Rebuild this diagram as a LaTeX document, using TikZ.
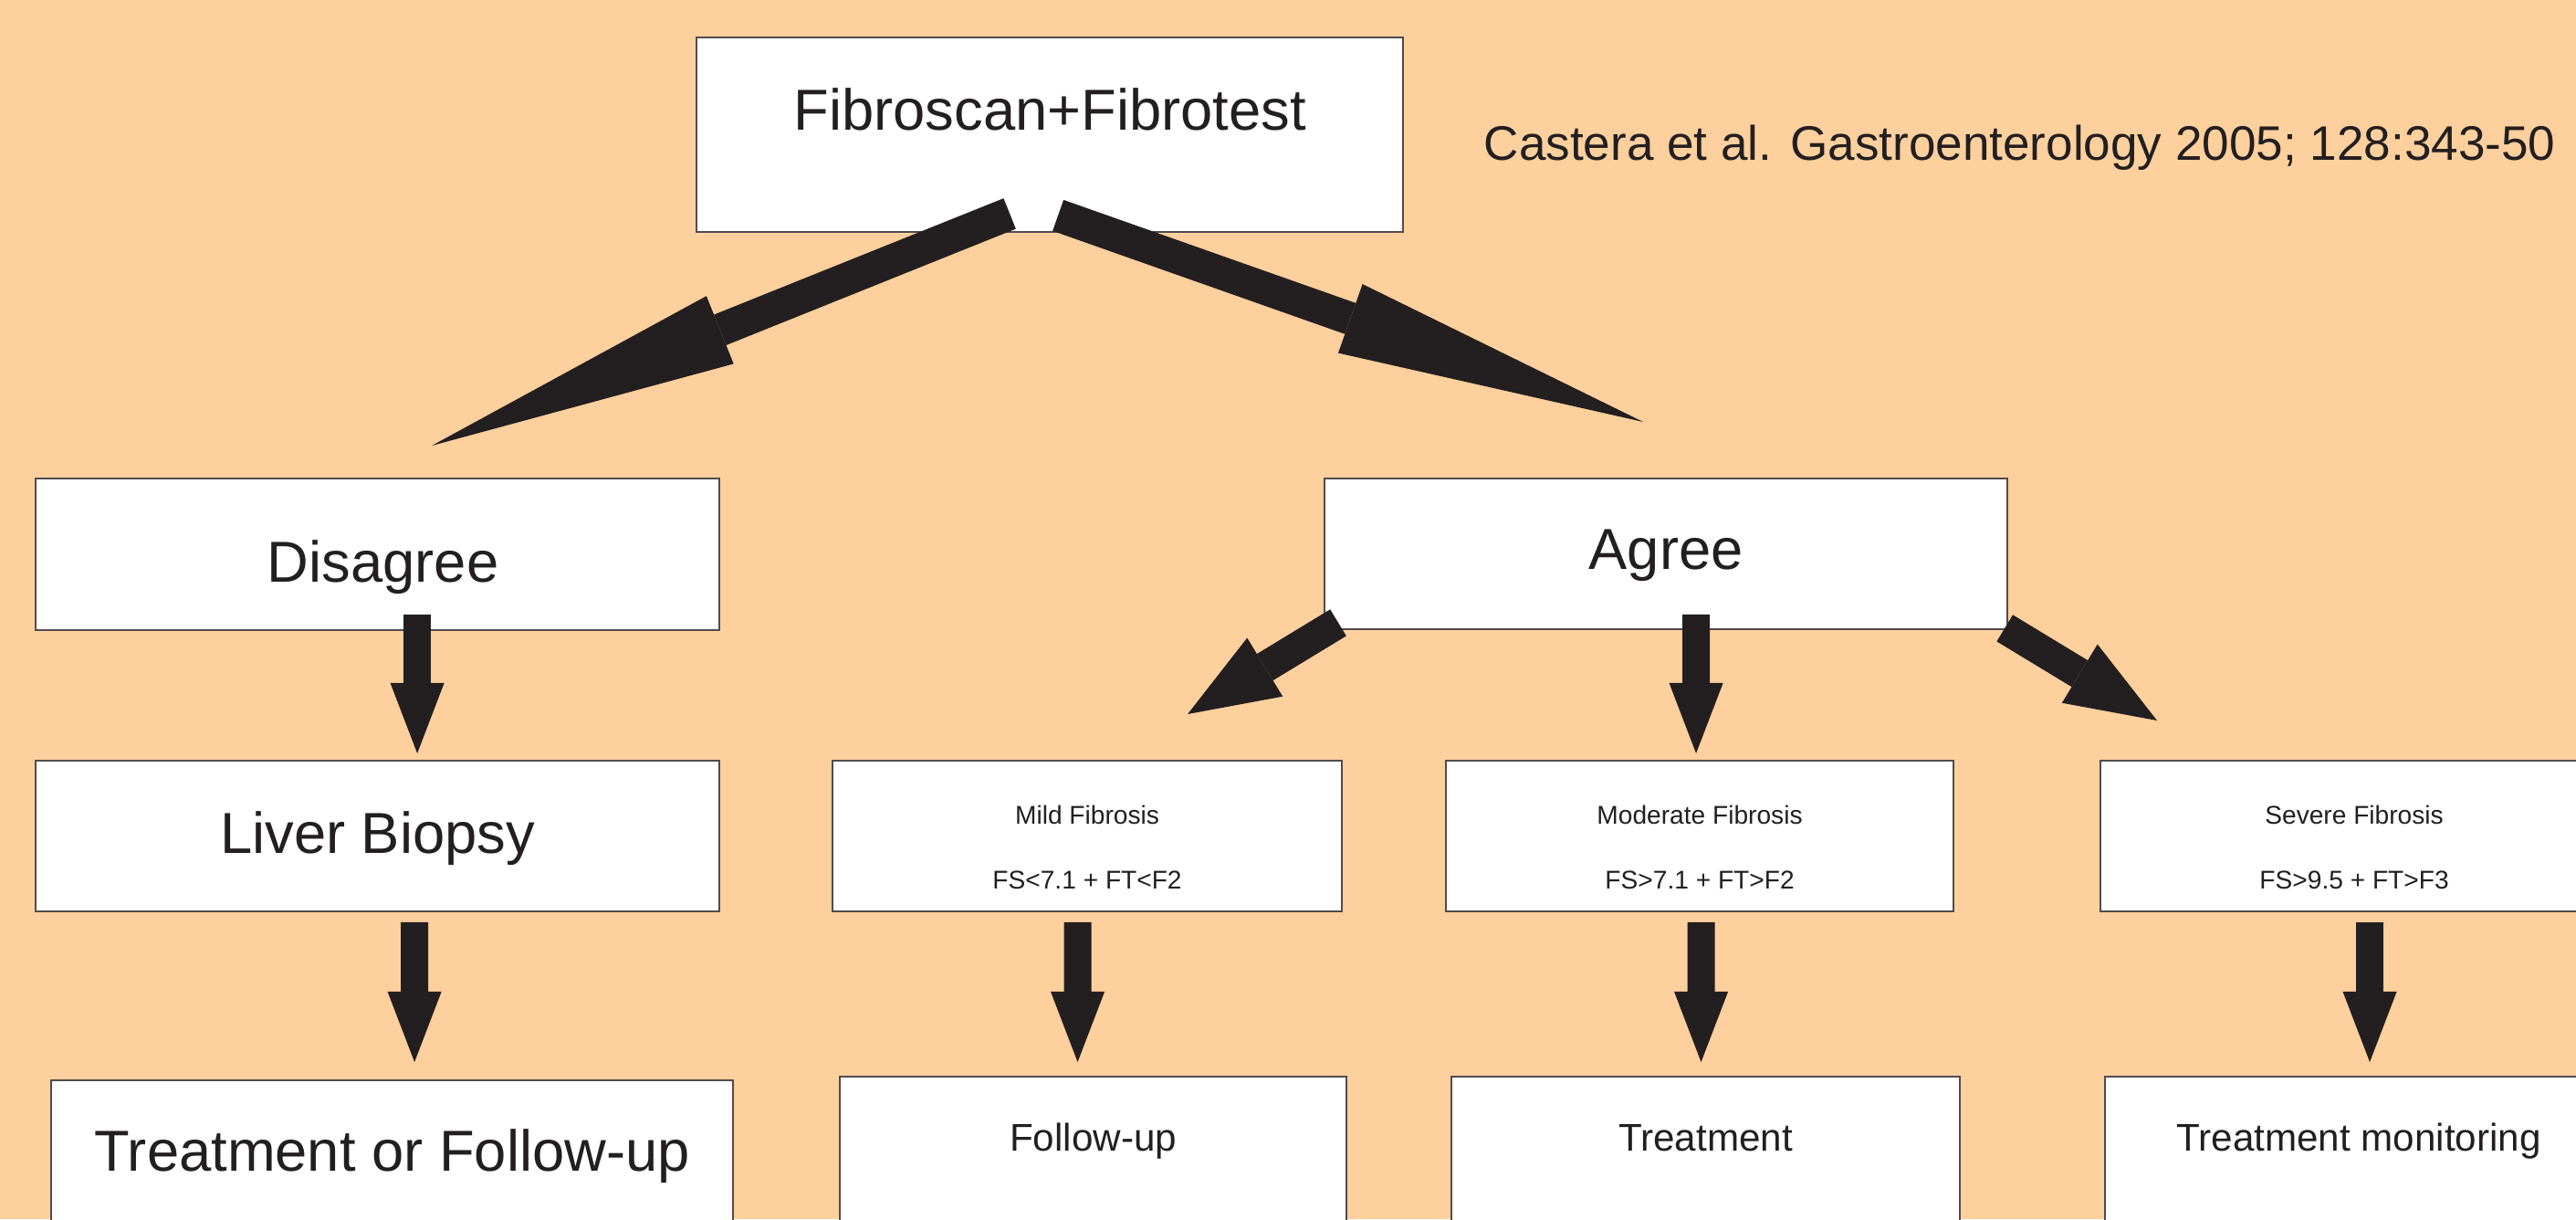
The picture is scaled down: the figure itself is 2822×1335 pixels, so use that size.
\documentclass[tikz,border=0pt]{standalone}
\usepackage{fontspec}
\setmainfont{Liberation Sans}
\usetikzlibrary{arrows.meta}
\definecolor{peach}{RGB}{253,208,158}
\definecolor{ink}{RGB}{35,31,32}
\begin{document}
\begin{tikzpicture}[x=0.01cm, y=-0.01cm,
  box/.style={draw=ink!80, line width=0.5pt, fill=white, inner sep=0pt,
    anchor=north west, text=ink, align=center},
  big/.style={font=\fontsize{18}{21.6}\selectfont},
  mid/.style={font=\fontsize{12}{14.4}\selectfont},
  tiny/.style={font=\fontsize{8}{20.2}\selectfont},
  fat/.style={ink, line width=0.36cm,
    -{Triangle[length=3.4cm, width=0.8cm, line width=0pt]}},
  slant/.style={ink, line width=0.34cm,
    -{Triangle[length=0.99cm, width=0.75cm, line width=0pt]}},
  down/.style={ink, line width=0.30cm,
    -{Triangle[length=0.77cm, width=0.59cm, line width=0pt]}}]
\useasboundingbox (0,0) rectangle (2822,1335);
\clip (0,0) rectangle (2822,1335);
\fill[peach] (0,0) rectangle (2822,1335);

% top
\node[box, big, minimum width=7.74cm, text height=1.02cm, text depth=1.11cm] (fib) at (762,40) {Fibroscan+Fibrotest};
\node[anchor=base west, inner sep=0pt, text=ink, font=\fontsize{15.1}{18}\selectfont] (ref) at (1625,175) {Castera et al. Gastroenterology 2005; 128:343-50};

% second row
\node[box, big, minimum width=7.49cm, text height=1.14cm, text depth=0.52cm] (dis) at (38,523) {\hspace*{0.12cm}Disagree};
\node[box, big, minimum width=7.48cm, text height=1.00cm, text depth=0.65cm] (agr) at (1450,523) {Agree};

% third row
\node[box, big, minimum width=7.49cm, text height=1.02cm, text depth=0.63cm] (liv) at (38,832) {Liver Biopsy};
\node[box, tiny, minimum width=5.58cm, text height=1.41cm, text depth=0.24cm] (mild) at (911,832) {Mild Fibrosis\\FS<7.1 + FT<F2};
\node[box, tiny, minimum width=5.56cm, text height=1.41cm, text depth=0.24cm] (mod) at (1583,832) {Moderate Fibrosis\\FS>7.1 + FT>F2};
\node[box, tiny, minimum width=5.56cm, text height=1.41cm, text depth=0.24cm] (sev) at (2300,832) {Severe Fibrosis\\FS>9.5 + FT>F3};

% last row
\node[box, big, minimum width=7.47cm, text height=1.00cm, text depth=0.65cm] (tf) at (55,1182) {Treatment or Follow-up};
\node[box, mid, minimum width=5.55cm, text height=0.82cm, text depth=0.83cm] (fol) at (919,1178) {Follow-up};
\node[box, mid, minimum width=5.57cm, text height=0.82cm, text depth=0.83cm] (trt) at (1589,1178) {Treatment};
\node[box, mid, minimum width=5.56cm, text height=0.82cm, text depth=0.83cm] (mon) at (2305,1178) {Treatment monitoring};

% arrows
\draw[fat] ([shift={(-44,-21)}]fib.south) -- ([shift={(59.5,-35)}]dis.north);
\draw[fat] ([shift={(9,-19)}]fib.south) -- ([shift={(-25,-61)}]agr.north);
\draw[slant] ([shift={(16,-8)}]agr.south west) -- ([shift={(110,-50)}]mild.north);
\draw[slant] ([shift={(-4,-2)}]agr.south east) -- ([shift={(63,-43)}]sev.north west);
\draw[down] ([shift={(43.5,-18)}]dis.south) -- ([shift={(43.5,-7)}]liv.north);
\draw[down] ([shift={(33,-17)}]agr.south) -- ([shift={(-4,-7)}]mod.north);
\draw[down] ([shift={(40.5,11)}]liv.south) -- ([shift={(24.5,-19)}]tf.north);
\draw[down] ([shift={(-10.5,11)}]mild.south) -- ([shift={(-17,-15)}]fol.north);
\draw[down] ([shift={(1.5,11)}]mod.south) -- ([shift={(-5,-15)}]trt.north);
\draw[down] ([shift={(17,11)}]sev.south) -- ([shift={(12,-15)}]mon.north);
\end{tikzpicture}
\end{document}
